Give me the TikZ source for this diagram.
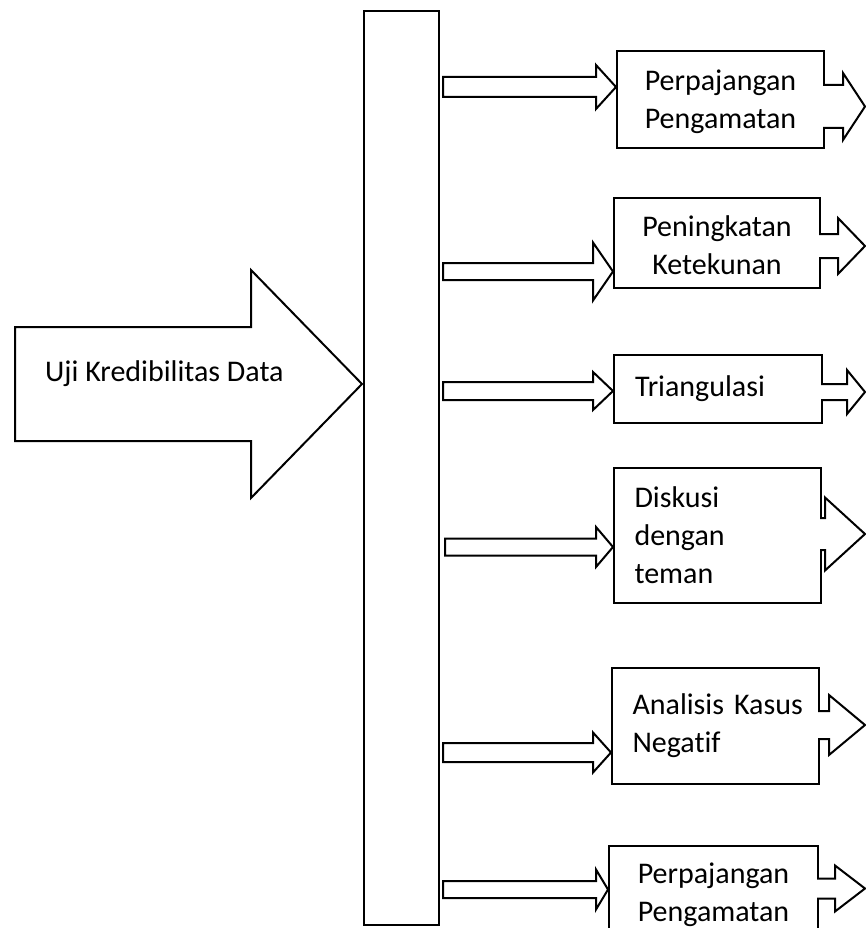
\documentclass[tikz,border=0pt]{standalone}
\usepackage{fontspec}
\setmainfont{Carlito}[Ligatures=NoCommon]
\begin{document}
\begin{tikzpicture}[x=1pt,y=-1pt,
  outline/.style={draw=black,line width=2pt,line join=miter},
  stepbox/.style={outline,fill=white,rectangle,anchor=north west,inner sep=0pt,
    font=\fontsize{30}{38}\selectfont},
  centred/.style={align=center},
  leftset/.style={align=left,text width=166pt,inner xsep=0pt},
  label/.style={inner sep=0pt,font=\fontsize{30}{38}\selectfont}]
\useasboundingbox (0,0) rectangle (866,928);
\clip (0,0) rectangle (866,928);
\hyphenpenalty=10000

% thin arrow from the bar to a box: tail x, head base x, tip x, centre y, half shaft, half head
\newcommand\inarrow[6]{%
  \draw[outline,fill=white] (#1,#4-#5) -- (#2,#4-#5) -- (#2,#4-#6) -- (#3,#4)
    -- (#2,#4+#6) -- (#2,#4+#5) -- (#1,#4+#5) -- cycle;}
% arrow leaving a box on the right: box edge x, head base x, tip x, centre y, half shaft, half head
\newcommand\outarrow[6]{%
  \fill[white] (#1-3,#4-#5) -- (#2,#4-#5) -- (#2,#4-#6) -- (#3,#4)
    -- (#2,#4+#6) -- (#2,#4+#5) -- (#1-3,#4+#5) -- cycle;
  \draw[outline] (#1,#4-#5) -- (#2,#4-#5) -- (#2,#4-#6) -- (#3,#4)
    -- (#2,#4+#6) -- (#2,#4+#5) -- (#1,#4+#5);}

% main input arrow
\draw[outline,fill=white] (15,327) -- (251,327) -- (251,270) -- (362,384)
  -- (251,498) -- (251,441) -- (15,441) -- cycle;
\node[label,anchor=west] (src) at (45,374) {Uji Kredibilitas Data};

% vertical bar
\node[outline,rectangle,anchor=north west,minimum width=75pt,minimum height=914pt,inner sep=0pt]
  (bar) at (363,10) {};

% boxes
\node[stepbox,centred,minimum width=207pt,minimum height=97pt] (b1) at (616,50)
  {\rule{0pt}{26pt}Perpajangan\\Pengamatan};
\node[stepbox,centred,minimum width=206pt,minimum height=90pt] (b2) at (613,197)
  {\rule{0pt}{26pt}Peningkatan\\Ketekunan};
\node[stepbox,leftset,minimum width=208pt,minimum height=68pt] (b3) at (613,354)
  {Triangulasi};
\node[stepbox,leftset,minimum width=207pt,minimum height=135pt] (b4) at (613,467)
  {Diskusi\\dengan\\teman};
\node[stepbox,leftset,minimum width=207pt,minimum height=116pt] (b5) at (611,667)
  {Analisis~Kasus\\Negatif};
\node[stepbox,centred,minimum width=209pt,minimum height=97pt] (b6) at (608,845)
  {Perpajangan\\Pengamatan};

% arrows from the bar into the boxes
\inarrow{443}{596}{616}{87}{10}{22}
\inarrow{443}{593}{613}{271.5}{8.5}{29}
\inarrow{443}{593}{613}{391}{9}{19}
\inarrow{445}{596}{613}{547}{8.5}{20}
\inarrow{443}{593}{611}{752.5}{9.5}{20}
\inarrow{443}{596}{608}{889.5}{8.5}{20}

% arrows leaving the boxes
\outarrow{823}{843}{865}{106.5}{21.5}{33.5}
\outarrow{819}{838}{865}{246}{12}{28}
\outarrow{821}{847}{865}{392}{8}{22}
\outarrow{820}{825}{865}{534}{16}{36.5}
\outarrow{818}{829}{865}{725}{14}{30}
\outarrow{817}{835}{865}{888.5}{10}{23}
\end{tikzpicture}
\end{document}
